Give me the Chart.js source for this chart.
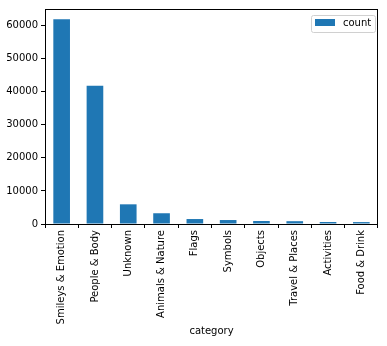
<!DOCTYPE html>
<html><head><meta charset="utf-8">
<script src="https://cdn.jsdelivr.net/npm/chart.js@4/dist/chart.umd.min.js"></script>
<style>html,body{margin:0;padding:0;background:#fff}#wrap{width:387px;height:346px;position:relative}</style>
</head><body><div id="wrap"><canvas id="c" width="387" height="346"></canvas></div>
<script>
const categories = ["Smileys & Emotion","People & Body","Unknown","Animals & Nature","Flags","Symbols","Objects","Travel & Places","Activities","Food & Drink"];
const counts = [61900, 41800, 5950, 3250, 1500, 1200, 900, 850, 600, 580];
const yTicks = [0,10000,20000,30000,40000,50000,60000];
const seriesName = "count";
const xTitle = "category";

const FONT = "'DejaVu Sans', sans-serif";
const frame = {
  id:'frame',
  afterDraw(chart){
    const {ctx, chartArea:a} = chart;
    ctx.save();
    ctx.strokeStyle='#000'; ctx.lineWidth=1;
    ctx.strokeRect(Math.round(a.left)+0.5, Math.round(a.top)+0.5, Math.round(a.right-a.left)-1, Math.round(a.bottom-a.top));
    // legend
    const w=64,h=17,x=Math.round(a.right)-67,y=Math.round(a.top)+6;
    ctx.strokeStyle='#d0d0d0';
    ctx.beginPath();
    if(ctx.roundRect) ctx.roundRect(x+0.5,y+0.5,w,h,2); else ctx.rect(x+0.5,y+0.5,w,h);
    ctx.fillStyle='rgba(255,255,255,0.8)'; ctx.fill(); ctx.stroke();
    ctx.fillStyle='#1f77b4'; ctx.fillRect(x+4,y+4,20,7);
    ctx.fillStyle='#000'; ctx.font='10px '+FONT; ctx.textBaseline='middle'; ctx.textAlign='left';
    ctx.fillText(chart.data.datasets[0].label, x+32, y+h/2);
    ctx.restore();
  }
};
new Chart(document.getElementById('c'), {
  type:'bar',
  data:{labels:categories, datasets:[{label:seriesName, data:counts, backgroundColor:'#1f77b4', borderWidth:0, categoryPercentage:1, barPercentage:0.5}]},
  options:{
    responsive:false, animation:false, devicePixelRatio:1,
    layout:{padding:{top:6,right:9,left:0,bottom:9}},
    plugins:{legend:{display:false}, tooltip:{enabled:false}},
    scales:{
      x:{
        grid:{display:true, drawOnChartArea:false, tickLength:4, color:'#000'},
        border:{display:false},
        ticks:{minRotation:90,maxRotation:90,autoSkip:false,color:'#000',font:{family:FONT,size:10},padding:2},
        title:{display:true,text:xTitle,color:'#000',font:{family:FONT,size:10},padding:{top:4,bottom:0}},
        afterFit(s){s.height=113;}
      },
      y:{
        min:0, max:65000,
        grid:{display:true, drawOnChartArea:false, tickLength:4, color:'#000'},
        border:{display:false},
        afterBuildTicks(s){s.ticks=yTicks.map(v=>({value:v}));},
        ticks:{color:'#000',font:{family:FONT,size:10},padding:3,callback:v=>String(v)},
        afterFit(s){s.width=45;}
      }
    }
  },
  plugins:[frame]
});
</script></body></html>
